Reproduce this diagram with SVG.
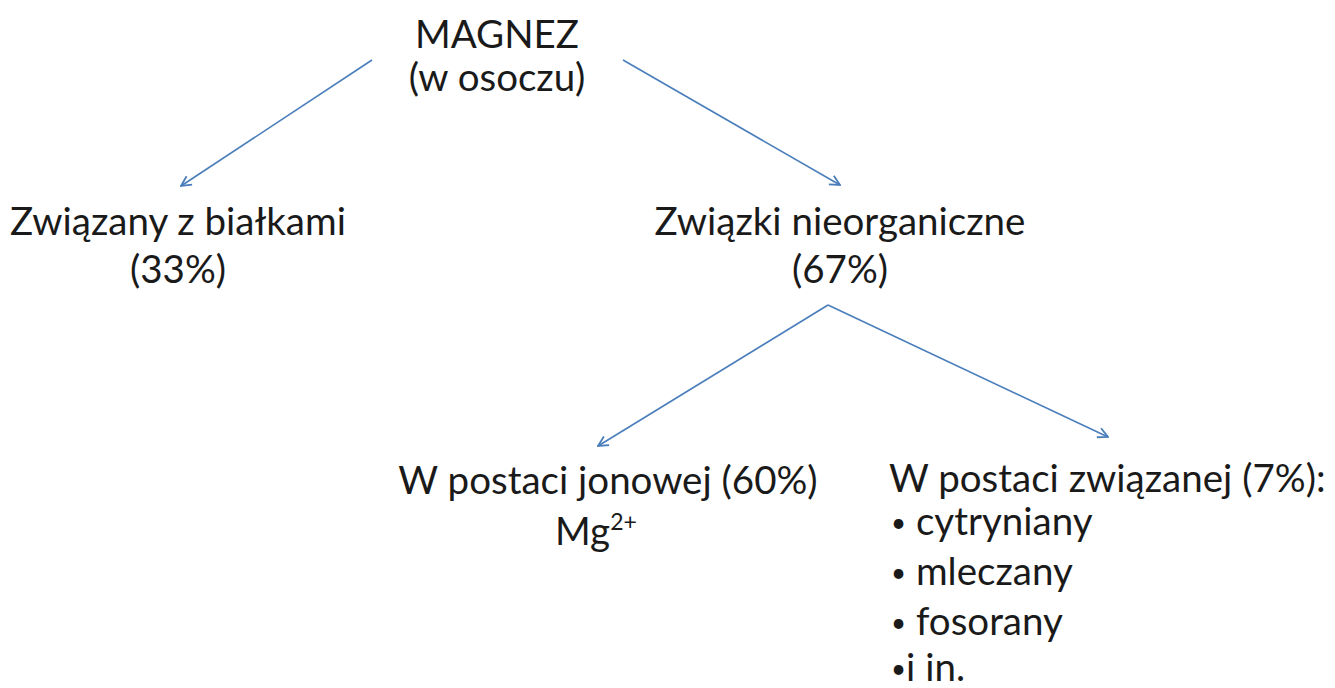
<svg xmlns="http://www.w3.org/2000/svg" width="1335" height="688" viewBox="0 0 1335 688">
<defs>
<style>
text{font-family:Lato,"Open Sans","Liberation Sans",sans-serif;font-size:38.5px;fill:#1a1a1a}
.c{text-anchor:middle}
.b{font-size:26px}
.conn line{stroke:#4a7ebb;stroke-width:1.6;fill:none;marker-end:url(#ah)}
</style>
<marker id="ah" viewBox="0 0 12 12" refX="11" refY="6" markerWidth="12" markerHeight="12" markerUnits="userSpaceOnUse" orient="auto">
<path d="M1,1 L11,6 L1,11" fill="none" stroke="#4a7ebb" stroke-width="1.8"/>
</marker>
</defs>
<rect width="1335" height="688" fill="#fff"/>
<g id="connectors" class="conn">
<line x1="372" y1="60" x2="181" y2="186"/>
<line x1="623" y1="60" x2="840" y2="185"/>
<line x1="828" y1="305" x2="598" y2="446"/>
<line x1="828" y1="305" x2="1108" y2="437"/>
</g>
<g id="magnez"><text class="c" x="497" y="48">MAGNEZ</text><text class="c" x="497" y="91">(w osoczu)</text></g>
<g id="bialka"><text class="c" x="178" y="235">Związany z białkami</text><text class="c" x="178" y="283">(33%)</text></g>
<g id="nieorg"><text class="c" x="840" y="235">Związki nieorganiczne</text><text class="c" x="840" y="283">(67%)</text></g>
<g id="jonowa"><text class="c" x="608" y="494">W postaci jonowej (60%)</text><text x="555" y="545">Mg<tspan font-size="23" dy="-15">2+</tspan></text></g>
<g id="zwiazana"><text x="889" y="492">W postaci związanej (7%):</text>
<text x="891" y="535"><tspan class="b" dy="-3">•</tspan><tspan dy="3"> cytryniany</tspan></text>
<text x="891" y="585"><tspan class="b" dy="-3">•</tspan><tspan dy="3"> mleczany</tspan></text>
<text x="891" y="635"><tspan class="b" dy="-3">•</tspan><tspan dy="3"> fosorany</tspan></text>
<text x="891" y="681"><tspan class="b" dy="-3">•</tspan><tspan dy="3">i in.</tspan></text></g>
</svg>
